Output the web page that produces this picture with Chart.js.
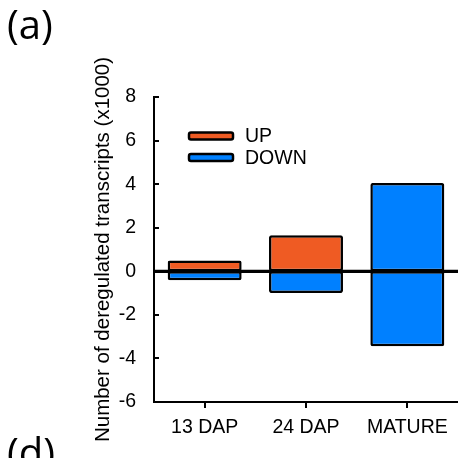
<!DOCTYPE html>
<html>
<head>
<meta charset="utf-8">
<script src="https://cdn.jsdelivr.net/npm/chart.js@4"></script>
<style>
  html, body { margin: 0; padding: 0; background: #fff; }
  canvas { display: block; }
</style>
</head>
<body>
<canvas id="chart" width="458" height="458"></canvas>
<script>
const categories = ['13 DAP', '24 DAP', 'MATURE'];
const upValues = [0.5, 1.65, 4.05];
const downValues = [-0.41, -1.0, -3.44];
const yTickValues = [-6, -4, -2, 0, 2, 4, 6, 8];

const ORANGE = '#EF5B23';
const BLUE = '#0080FF';
const upColors = [ORANGE, ORANGE, BLUE];
const FONT = '"Liberation Sans", Arial, sans-serif';

// inward y ticks, zero line, legend and panel letters
const decorations = {
  id: 'decorations',
  afterDatasetsDraw(chart) {
    const { ctx, chartArea, scales } = chart;
    const y = scales.y;
    ctx.save();
    ctx.strokeStyle = '#000';
    ctx.lineWidth = 2;
    yTickValues.forEach((v) => {
      const py = Math.round(y.getPixelForValue(v));
      ctx.beginPath();
      ctx.moveTo(chartArea.left, py);
      ctx.lineTo(chartArea.left + 5, py);
      ctx.stroke();
    });

    const zero = y.getPixelForValue(0);
    ctx.lineWidth = 3.2;
    ctx.beginPath();
    ctx.moveTo(chartArea.left, zero);
    ctx.lineTo(chartArea.right, zero);
    ctx.stroke();

    // legend
    const items = [
      { label: chart.data.datasets[0].label, color: ORANGE },
      { label: chart.data.datasets[1].label, color: BLUE },
    ];
    ctx.font = '19.5px ' + FONT;
    ctx.textBaseline = 'middle';
    items.forEach((it, i) => {
      const cy = 136 + i * 21.5;
      ctx.beginPath();
      ctx.roundRect(189, cy - 3.5, 44, 7, 2);
      ctx.fillStyle = it.color;
      ctx.fill();
      ctx.lineWidth = 2.5;
      ctx.strokeStyle = '#000';
      ctx.stroke();
      ctx.fillStyle = '#000';
      ctx.fillText(it.label, 245, cy + 1);
    });

    ctx.font = '40px "Open Sans", sans-serif';
    ctx.textBaseline = 'alphabetic';
    ctx.fillText('(a)', 7, 39);
    ctx.fillText('(d)', 7, 467);
    ctx.restore();
  },
};

new Chart(document.getElementById('chart'), {
  type: 'bar',
  data: {
    labels: categories,
    datasets: [
      {
        label: 'UP',
        data: upValues,
        backgroundColor: upColors,
      },
      {
        label: 'DOWN',
        data: downValues,
        backgroundColor: BLUE,
      },
    ],
  },
  options: {
    responsive: false,
    animation: false,
    layout: { padding: { top: 97, right: 0, bottom: 0, left: 0 } },
    datasets: {
      bar: {
        borderColor: '#000',
        borderWidth: 2.5,
        borderRadius: 2,
        borderSkipped: false,
        categoryPercentage: 1,
        barPercentage: 0.73,
      },
    },
    plugins: { legend: { display: false }, tooltip: { enabled: false } },
    scales: {
      x: {
        stacked: true,
        afterFit: (s) => { s.height = 56; },
        grid: {
          display: true,
          drawOnChartArea: false,
          offset: false,
          tickLength: 6,
          color: '#000',
          lineWidth: 2,
        },
        border: { display: true, color: '#000', width: 2 },
        ticks: { color: '#000', font: { family: FONT, size: 19.5 }, padding: 8 },
      },
      y: {
        stacked: true,
        min: -6,
        max: 8,
        afterFit: (s) => { s.width = 154; },
        afterBuildTicks: (s) => { s.ticks = yTickValues.map((v) => ({ value: v })); },
        grid: { display: false },
        border: { display: true, color: '#000', width: 2 },
        ticks: { color: '#000', font: { family: FONT, size: 19.5 }, padding: 10 },
        title: {
          display: true,
          text: 'Number of deregulated transcripts (x1000)',
          color: '#000',
          font: { family: FONT, size: 20.5 },
          padding: { top: 91, bottom: 0 },
        },
      },
    },
  },
  plugins: [decorations],
});
</script>
</body>
</html>
